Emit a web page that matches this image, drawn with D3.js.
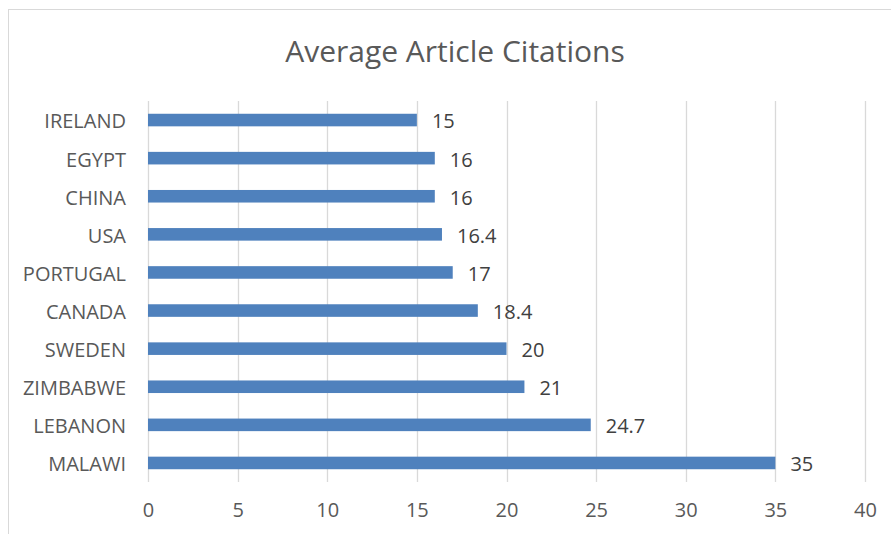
<!DOCTYPE html>
<html>
<head>
<meta charset="utf-8">
<script src="https://cdn.jsdelivr.net/npm/d3@7"></script>
<style>
  body { margin: 0; background: #fff; }
  text { font-family: "Open Sans", sans-serif; }
</style>
</head>
<body>
<div id="drawing"></div>
<script>
const width = 891;
const height = 534;
const margin = {top: 101, right: 26, bottom: 52, left: 148};

// chart data, top to bottom
const countries = ["IRELAND", "EGYPT", "CHINA", "USA", "PORTUGAL", "CANADA", "SWEDEN", "ZIMBABWE", "LEBANON", "MALAWI"];
const citations = [15, 16, 16, 16.4, 17, 18.4, 20, 21, 24.7, 35];
const xTicks = [0, 5, 10, 15, 20, 25, 30, 35, 40];
const title = "Average Article Citations";

const rows = countries.map((c, i) => ({country: c, value: citations[i]}));

const svg = d3.select("#drawing").append("svg")
  .attr("width", width)
  .attr("height", height);

// outer chart frame
svg.append("rect")
  .attr("x", 8.5).attr("y", 9.5)
  .attr("width", width + 10).attr("height", height + 10)
  .attr("fill", "none")
  .attr("stroke", "#d9d9d9");

svg.append("text")
  .attr("x", 455).attr("y", 62)
  .attr("text-anchor", "middle")
  .attr("font-size", 30)
  .attr("fill", "#595959")
  .text(title);

const plotW = width - margin.left - margin.right;
const plotH = height - margin.top - margin.bottom;

const g = svg.append("g")
  .attr("transform", `translate(${margin.left},${margin.top})`);

const xScale = d3.scaleLinear().domain([0, 40]).range([0, plotW]);
const yScale = d3.scaleBand().domain(countries).range([0, plotH]).paddingInner(0.67).paddingOuter(0.335);

// gridlines
g.selectAll(".grid")
  .data(xTicks)
  .enter()
  .append("line")
    .attr("class", "grid")
    .attr("x1", d => Math.round(xScale(d)) + 0.5)
    .attr("x2", d => Math.round(xScale(d)) + 0.5)
    .attr("y1", 0)
    .attr("y2", plotH)
    .attr("stroke", "#d9d9d9")
    .attr("stroke-width", 1.3);

// x axis labels
const xAxis = g.append("g")
  .attr("transform", `translate(0,${plotH})`)
  .call(d3.axisBottom(xScale).tickValues(xTicks).tickSize(0).tickPadding(21));
xAxis.select(".domain").remove();
xAxis.selectAll("text")
  .attr("font-size", 20)
  .attr("font-family", "Open Sans, sans-serif")
  .attr("fill", "#595959");

// y axis labels
const yAxis = g.append("g")
  .call(d3.axisLeft(yScale).tickSize(0).tickPadding(22));
yAxis.select(".domain").remove();
yAxis.selectAll("text")
  .attr("font-size", 20)
  .attr("font-family", "Open Sans, sans-serif")
  .attr("fill", "#595959")
  .attr("dy", "0.42em");

// bars
g.selectAll(".bar")
  .data(rows)
  .enter()
  .append("rect")
    .attr("class", "bar")
    .attr("x", 0)
    .attr("y", d => yScale(d.country))
    .attr("width", d => xScale(d.value))
    .attr("height", yScale.bandwidth())
    .attr("fill", "#4f81bd");

// value labels
g.selectAll(".val")
  .data(rows)
  .enter()
  .append("text")
    .attr("class", "val")
    .attr("x", d => xScale(d.value) + 15)
    .attr("y", d => yScale(d.country) + yScale.bandwidth() / 2)
    .attr("dy", "0.42em")
    .attr("font-size", 20)
    .attr("fill", "#404040")
    .text(d => d.value);
</script>
</body>
</html>
